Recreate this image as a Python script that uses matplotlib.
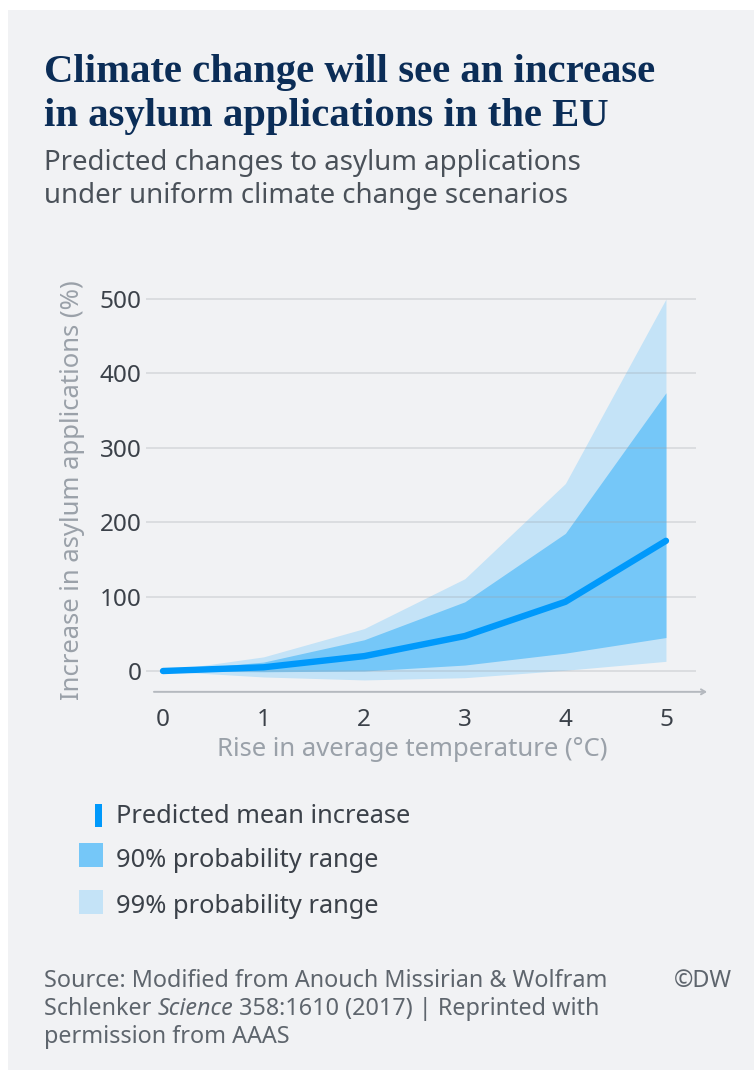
import matplotlib
matplotlib.use("Agg")
import matplotlib.pyplot as plt
from matplotlib.patches import Rectangle

# ---- data -------------------------------------------------------------
temperature_rise = [0, 1, 2, 3, 4, 5]          # °C
mean_increase = [0, 5, 20, 47, 93, 175]        # %
p90_lower = [0, -1, 0, 8, 24, 45]
p90_upper = [0, 12, 42, 93, 185, 374]
p99_lower = [0, -8, -12, -9, 1, 13]
p99_upper = [0, 19, 57, 124, 252, 500]

y_ticks = [0, 100, 200, 300, 400, 500]
x_ticks = [0, 1, 2, 3, 4, 5]

legend_labels = ["Predicted mean increase", "90% probability range",
                 "99% probability range"]
title_lines = ["Climate change will see an increase",
               "in asylum applications in the EU"]
subtitle_lines = ["Predicted changes to asylum applications",
                  "under uniform climate change scenarios"]
y_label = "Increase in asylum applications (%)"
x_label = "Rise in average temperature (°C)"

# ---- style ------------------------------------------------------------
BG = "#f1f2f4"
TITLE_C = "#0b2d57"
SUB_C = "#4a5159"
TICK_C = "#3b4149"
LABEL_C = "#9aa1a9"
GRID_C = "#9aa0a8"
AXIS_C = "#b5b9bf"
MEAN_C = "#0099fb"
C90 = "#75c7f8"
C99 = "#c4e3f7"
SRC_C = "#5e656d"
SANS = "Noto Sans"
SERIF = "Liberation Serif"

W, H, DPI = 754, 1070, 100
fig = plt.figure(figsize=(W / DPI, H / DPI), dpi=DPI, facecolor="white")


def fx(px):
    return px / W


def fy(py):
    return 1 - py / H


# grey card behind everything
fig.patches.append(Rectangle((fx(8), 0), 1 - fx(8), fy(10),
                             transform=fig.transFigure, facecolor=BG,
                             edgecolor="none", zorder=-10))

# ---- headings ---------------------------------------------------------
for text, base in zip(title_lines, [82, 126]):
    fig.text(fx(44), fy(base), text, fontsize=29.3, family=SERIF,
             weight="bold", color=TITLE_C, va="baseline", ha="left")
for text, base in zip(subtitle_lines, [170, 203]):
    fig.text(fx(44), fy(base), text, fontsize=19.9, family=SANS,
             color=SUB_C, va="baseline", ha="left")

# ---- plot area --------------------------------------------------------
left, right, top, bottom = 146, 707, 291, 694
ax = fig.add_axes([fx(left), fy(bottom), (right - left) / W, (bottom - top) / H])
ax.set_facecolor("none")
ax.set_xlim(-0.169, 5.408)
ax.set_ylim(-30.9, 510.8)
for s in ax.spines.values():
    s.set_visible(False)

ax.fill_between(temperature_rise, p99_lower, p99_upper, color=C99,
                linewidth=0, zorder=1)
ax.fill_between(temperature_rise, p90_lower, p90_upper, color=C90,
                linewidth=0, zorder=2)
ax.hlines(y_ticks, -0.169, 5.30, colors=GRID_C, linewidth=1.3, alpha=0.28,
          zorder=3)
ax.plot(temperature_rise, mean_increase, color=MEAN_C, linewidth=4.6,
        solid_capstyle="round", solid_joinstyle="round", zorder=4)

# x axis with arrow head
ax.annotate("", xy=(5.408, -28), xytext=(-0.09, -28),
            xycoords="data", annotation_clip=False,
            arrowprops=dict(arrowstyle="->,head_length=0.3,head_width=0.18",
                            color=AXIS_C, lw=1.4, shrinkA=0, shrinkB=0))

ax.set_yticks(y_ticks)
ax.set_yticklabels([str(v) for v in y_ticks])
ax.set_xticks(x_ticks)
ax.set_xticklabels([str(v) for v in x_ticks])
ax.tick_params(axis="both", length=0, labelsize=17.5, labelcolor=TICK_C)
ax.tick_params(axis="y", pad=3)
ax.tick_params(axis="x", pad=10)
for lab in ax.get_xticklabels() + ax.get_yticklabels():
    lab.set_family(SANS)

fig.text(fx(73), fy(490), y_label, rotation=90, fontsize=18.5, family=SANS,
         color=LABEL_C, ha="center", va="center")
fig.text(fx(412), fy(749), x_label, fontsize=18.5, family=SANS,
         color=LABEL_C, ha="center", va="center")

# ---- legend -----------------------------------------------------------
fig.patches.append(Rectangle((fx(95), fy(827)), fx(7), 23 / H,
                             transform=fig.transFigure, facecolor=MEAN_C,
                             edgecolor="none"))
fig.patches.append(Rectangle((fx(79), fy(867)), fx(24), 24 / H,
                             transform=fig.transFigure, facecolor=C90,
                             edgecolor="none"))
fig.patches.append(Rectangle((fx(79), fy(914)), fx(24), 24 / H,
                             transform=fig.transFigure, facecolor=C99,
                             edgecolor="none"))
for text, base in zip(legend_labels, [823, 867, 913]):
    fig.text(fx(116), fy(base), text, fontsize=18.3, family=SANS,
             color=TICK_C, va="baseline", ha="left")

# ---- source line ------------------------------------------------------
SRC_SIZE = 16.8
fig.text(fx(44), fy(987), "Source: Modified from Anouch Missirian & Wolfram",
         fontsize=SRC_SIZE, family=SANS, color=SRC_C, va="baseline")
fig.text(fx(732), fy(987), "©DW", fontsize=SRC_SIZE, family=SANS,
         color=SRC_C, va="baseline", ha="right")
fig.text(fx(44), fy(1043), "permission from AAAS", fontsize=SRC_SIZE,
         family=SANS, color=SRC_C, va="baseline")

renderer = fig.canvas.get_renderer()
x_cursor = 44
for piece, style in [("Schlenker ", "normal"), ("Science", "italic"),
                     (" 358:1610 (2017) | Reprinted with", "normal")]:
    t = fig.text(fx(x_cursor), fy(1015), piece, fontsize=SRC_SIZE,
                 family=SANS, style=style, color=SRC_C, va="baseline")
    x_cursor += t.get_window_extent(renderer=renderer).width

fig.savefig("out.png", dpi=DPI, facecolor="white")
